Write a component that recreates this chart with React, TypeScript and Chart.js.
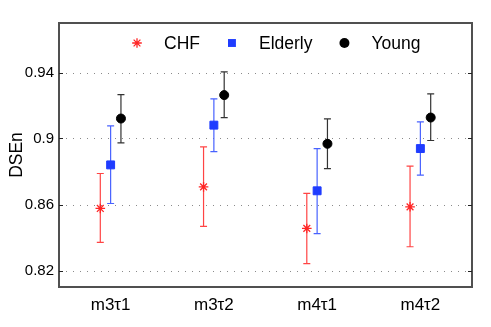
import React, { useEffect, useRef } from "react";
import { Chart, registerables } from "chart.js";

Chart.register(...registerables);

const CATEGORIES = ["m3τ1", "m3τ2", "m4τ1", "m4τ2"];
const SERIES_NAMES = ["CHF", "Elderly", "Young"];
const Y_TICKS = [0.82, 0.86, 0.9, 0.94];

const CHF_MEAN = [0.8576, 0.8707, 0.8455, 0.8586];
const CHF_LOW = [0.837, 0.8468, 0.8242, 0.8344];
const CHF_HIGH = [0.8788, 0.8949, 0.8667, 0.8833];

const ELDERLY_MEAN = [0.884, 0.9081, 0.8683, 0.8939];
const ELDERLY_LOW = [0.8606, 0.8921, 0.8424, 0.8778];
const ELDERLY_HIGH = [0.9077, 0.924, 0.8939, 0.9101];

const YOUNG_MEAN = [0.9121, 0.9263, 0.8968, 0.9127];
const YOUNG_LOW = [0.8974, 0.9127, 0.8818, 0.8988];
const YOUNG_HIGH = [0.9266, 0.9404, 0.9119, 0.9271];

const OFFSETS = [-0.1, 0, 0.1];
const COLORS = ["#ff2626", "#1f3cff", "#000000"];
const BAR_COLORS = ["#ff4444", "#4862ff", "#333333"];
const STYLES: any[] = ["star", "rect", "circle"];
const RADII = [4.8, 5.6, 4.5];

const MEANS = [CHF_MEAN, ELDERLY_MEAN, YOUNG_MEAN];
const LOWS = [CHF_LOW, ELDERLY_LOW, YOUNG_LOW];
const HIGHS = [CHF_HIGH, ELDERLY_HIGH, YOUNG_HIGH];

const FONT = "'Liberation Sans', Arial, Helvetica, sans-serif";

function drawMarker(ctx: CanvasRenderingContext2D, s: number, x: number, y: number) {
  const r = RADII[s];
  ctx.fillStyle = COLORS[s];
  ctx.strokeStyle = COLORS[s];
  ctx.beginPath();
  if (s === 0) {
    ctx.lineWidth = 1.3;
    ctx.moveTo(x - r, y);
    ctx.lineTo(x + r, y);
    ctx.moveTo(x, y - r);
    ctx.lineTo(x, y + r);
    const d = r * Math.SQRT1_2;
    ctx.moveTo(x - d, y - d);
    ctx.lineTo(x + d, y + d);
    ctx.moveTo(x - d, y + d);
    ctx.lineTo(x + d, y - d);
    ctx.stroke();
  } else if (s === 1) {
    const h = r * Math.SQRT1_2;
    ctx.rect(x - h, y - h, 2 * h, 2 * h);
    ctx.fill();
  } else {
    ctx.arc(x, y, r + 0.5, 0, Math.PI * 2);
    ctx.fill();
  }
}

const decorPlugin = {
  id: "decor",
  beforeDatasetsDraw(chart: any) {
    const { ctx, chartArea, scales } = chart;
    const ys = scales.y;
    const xs = scales.x;
    ctx.save();
    ctx.strokeStyle = "#8a8a8a";
    ctx.lineWidth = 1;
    ctx.setLineDash([1, 6]);
    Y_TICKS.forEach((v) => {
      const py = Math.round(ys.getPixelForValue(v)) + 0.5;
      ctx.beginPath();
      ctx.moveTo(chartArea.left, py);
      ctx.lineTo(chartArea.right, py);
      ctx.stroke();
    });
    ctx.setLineDash([]);
    MEANS.forEach((_, s) => {
      ctx.strokeStyle = BAR_COLORS[s];
      ctx.lineWidth = 1.2;
      CATEGORIES.forEach((_c, i) => {
        const px = xs.getPixelForValue(i + 1 + OFFSETS[s]);
        const lo = ys.getPixelForValue(LOWS[s][i]);
        const hi = ys.getPixelForValue(HIGHS[s][i]);
        ctx.beginPath();
        ctx.moveTo(px, lo);
        ctx.lineTo(px, hi);
        ctx.moveTo(px - 3.5, lo);
        ctx.lineTo(px + 3.5, lo);
        ctx.moveTo(px - 3.5, hi);
        ctx.lineTo(px + 3.5, hi);
        ctx.stroke();
      });
    });
    ctx.restore();
  },
  afterDraw(chart: any) {
    const { ctx, chartArea, scales } = chart;
    const ys = scales.y;
    ctx.save();
    ctx.strokeStyle = "#505050";
    ctx.lineWidth = 2;
    ctx.strokeRect(chartArea.left, chartArea.top, chartArea.right - chartArea.left, chartArea.bottom - chartArea.top);
    ctx.strokeStyle = "#222";
    ctx.lineWidth = 1.2;
    Y_TICKS.forEach((v) => {
      const py = Math.round(ys.getPixelForValue(v)) + 0.5;
      ctx.beginPath();
      ctx.moveTo(chartArea.left, py);
      ctx.lineTo(chartArea.left + 4, py);
      ctx.moveTo(chartArea.right, py);
      ctx.lineTo(chartArea.right - 4, py);
      ctx.stroke();
    });
    ctx.font = `17.5px ${FONT}`;
    ctx.textBaseline = "middle";
    ctx.textAlign = "left";
    const ly = chartArea.top + 20;
    let lx = chartArea.left + 78;
    SERIES_NAMES.forEach((name, s) => {
      drawMarker(ctx, s, lx, ly);
      ctx.fillStyle = "#000";
      ctx.fillText(name, lx + 27, ly + 1);
      const w = ctx.measureText(name).width;
      lx = lx + 27 + w + 32;
    });
    ctx.restore();
  },
};

export default function App() {
  const ref = useRef<HTMLCanvasElement>(null);
  useEffect(() => {
    document.body.style.margin = "0";
    const datasets = MEANS.map((arr, s) => ({
      label: SERIES_NAMES[s],
      data: arr.map((v, i) => ({ x: i + 1 + OFFSETS[s], y: v })),
      pointStyle: STYLES[s],
      pointRadius: RADII[s],
      pointBackgroundColor: COLORS[s],
      pointBorderColor: COLORS[s],
      pointBorderWidth: s === 0 ? 1.3 : 1,
      showLine: false,
    }));
    const chart = new Chart(ref.current!, {
      type: "scatter",
      data: { datasets },
      options: {
        animation: false,
        responsive: false,
        layout: { padding: { top: 23, right: 19, left: 0, bottom: 0 } },
        plugins: { legend: { display: false }, tooltip: { enabled: false } },
        scales: {
          x: {
            type: "linear",
            min: 0.5,
            max: 4.5,
            afterBuildTicks: (s: any) => {
              s.ticks = CATEGORIES.map((_, i) => ({ value: i + 1 }));
            },
            afterFit: (s: any) => {
              s.height = 40;
            },
            ticks: {
              callback: (v: any) => CATEGORIES[Math.round(v) - 1],
              color: "#000",
              font: { family: FONT, size: 17 },
              padding: 8,
              maxRotation: 0,
              autoSkip: false,
            },
            grid: { display: false, drawTicks: false },
            border: { display: false },
          },
          y: {
            type: "linear",
            min: 0.81,
            max: 0.97,
            afterBuildTicks: (s: any) => {
              s.ticks = Y_TICKS.map((v) => ({ value: v }));
            },
            afterFit: (s: any) => {
              s.width = 59;
            },
            ticks: {
              callback: (v: any) => String(v),
              color: "#000",
              font: { family: FONT, size: 15 },
              padding: 5,
              autoSkip: false,
            },
            grid: { display: false, drawTicks: false },
            border: { display: false },
            title: {
              display: true,
              text: "DSEn",
              color: "#000",
              font: { family: FONT, size: 17.5 },
              padding: { top: 7, bottom: 0 },
            },
          },
        },
      },
      plugins: [decorPlugin],
    });
    return () => chart.destroy();
  }, []);
  return <canvas ref={ref} width={491} height={327} style={{ display: "block" }} />;
}
